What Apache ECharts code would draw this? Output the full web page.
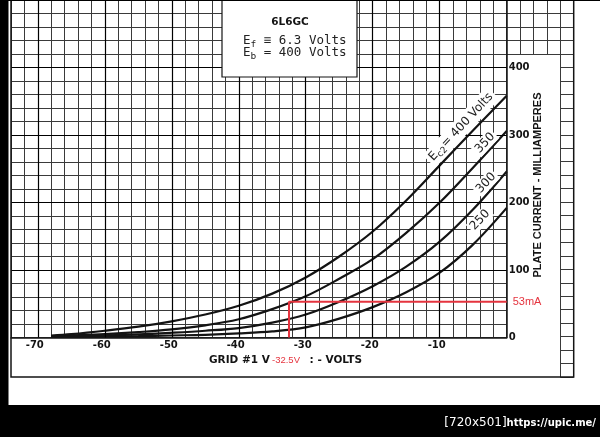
<!DOCTYPE html>
<html>
<head>
<meta charset="utf-8">
<script src="https://cdn.jsdelivr.net/npm/echarts@6/dist/echarts.min.js"></script>
<style>
  html, body { margin: 0; padding: 0; background: #fff; }
  #chart { width: 600px; height: 437px; }
</style>
</head>
<body>
<div id="chart"></div>
<script>
// grid #1 voltage (V) where the curves were read
var gridVolts = [-68, -65, -60, -55, -50, -45, -40, -35, -30, -25, -20, -15, -10, -5, 0];
// plate current (mA), one list per screen voltage Ec2
var ec2_400 = [3, 5, 10, 16, 24, 34, 47, 65, 89, 120, 157, 203, 255, 307, 358];
var ec2_350 = [2, 3, 5, 8, 12, 18, 27, 42, 61, 87, 116, 155, 200, 252, 306];
var ec2_300 = [1.5, 2, 3, 4.5, 7, 10, 14, 22, 34, 53, 76, 105, 142, 190, 246];
var ec2_250 = [1, 1.2, 1.5, 2, 3, 4, 6, 9, 15, 28, 45, 67, 96, 138, 192];

var xTickLabels = [-70, -60, -50, -40, -30, -20, -10];
var yTickLabels = [0, 100, 200, 300, 400];
var majorX = [-70, -60, -50, -40, -30, -20, -10];
var majorY = [100, 200, 300, 400];

// operating point marked in red
var opVolts = -32.5;
var opCurrent = 53;

var RED = '#e5343f';
var INK = '#141414';
var MINOR = '#3a3a3a';

function zip(xs, ys) {
  return xs.map(function (x, i) { return [x, ys[i]]; });
}

function plainAxis(extra) {
  var a = {
    type: 'value',
    interval: 2,
    axisLine: { show: false },
    axisTick: { show: false },
    axisLabel: { show: false },
    splitLine: { show: true, lineStyle: { color: MINOR, width: 1 } }
  };
  for (var k in extra) a[k] = extra[k];
  return a;
}

var chart = echarts.init(document.getElementById('chart'));

var option = {
  animation: false,
  backgroundColor: '#fff',
  grid: [
    { left: 11, right: 93.3, top: 0, bottom: 99.5, containLabel: false, outerBoundsMode: 'none' },
    { left: 506.7, right: 26.3, top: 0, bottom: 383, containLabel: false, outerBoundsMode: 'none' },
    { left: 560.3, right: 26.3, top: 54, bottom: 60, containLabel: false, outerBoundsMode: 'none' }
  ],
  xAxis: [
    {
      type: 'value', gridIndex: 0, min: -74, max: 0, interval: 2,
      axisLine: { show: true, onZero: false, lineStyle: { color: INK, width: 1.5 } },
      axisTick: { show: false },
      axisLabel: {
        margin: 3,
        padding: [0, 6, 0, 0],
        color: INK,
        fontFamily: 'DejaVu Sans',
        fontWeight: 'bold',
        fontSize: 10,
        formatter: function (v) { return xTickLabels.indexOf(v) >= 0 ? String(v) : ''; }
      },
      splitLine: { show: true, lineStyle: { color: MINOR, width: 1 } }
    },
    plainAxis({ gridIndex: 1, min: 0, max: 10 }),
    plainAxis({ gridIndex: 2, min: 8, max: 10 })
  ],
  yAxis: [
    {
      type: 'value', gridIndex: 0, position: 'right', min: 0, max: 500, interval: 20,
      axisLine: { show: true, onZero: false, lineStyle: { color: INK, width: 1.5 } },
      axisTick: { show: false },
      axisLabel: {
        margin: 2,
        color: INK,
        fontFamily: 'DejaVu Sans',
        fontWeight: 'bold',
        fontSize: 10,
        formatter: function (v) { return yTickLabels.indexOf(v) >= 0 ? String(v) : ''; }
      },
      splitLine: { show: true, lineStyle: { color: MINOR, width: 1 } }
    },
    plainAxis({ gridIndex: 1, min: 420, max: 500, interval: 20 }),
    plainAxis({ gridIndex: 2, min: -60, max: 420, interval: 20 })
  ],
  series: [
    {
      name: 'Ec2 400', type: 'line', smooth: 0.35, showSymbol: false, silent: true,
      lineStyle: { color: INK, width: 2.2 },
      data: zip(gridVolts, ec2_400),
      markLine: {
        silent: true,
        symbol: ['none', 'none'],
        label: { show: false },
        lineStyle: { color: '#000', width: 1.2, type: 'solid' },
        data: majorX.map(function (v) { return { xAxis: v }; })
          .concat(majorY.map(function (v) { return { yAxis: v }; }))
      }
    },
    {
      name: 'Ec2 350', type: 'line', smooth: 0.35, showSymbol: false, silent: true,
      lineStyle: { color: INK, width: 2.2 },
      data: zip(gridVolts, ec2_350)
    },
    {
      name: 'Ec2 300', type: 'line', smooth: 0.35, showSymbol: false, silent: true,
      lineStyle: { color: INK, width: 2.2 },
      data: zip(gridVolts, ec2_300)
    },
    {
      name: 'Ec2 250', type: 'line', smooth: 0.35, showSymbol: false, silent: true,
      lineStyle: { color: INK, width: 2.2 },
      data: zip(gridVolts, ec2_250)
    },
    {
      name: 'op', type: 'line', showSymbol: false, silent: true, clip: false, z: 5,
      lineStyle: { color: RED, width: 2 },
      data: [[opVolts, 0], [opVolts, opCurrent], [0, opCurrent]],
      endLabel: {
        show: true,
        distance: 6,
        color: RED,
        fontFamily: 'Liberation Sans',
        fontSize: 11,
        formatter: opCurrent + 'mA'
      }
    }
  ],
  graphic: [
    // black scan borders
    { type: 'rect', z: 100, shape: { x: 0, y: 0, width: 8.5, height: 437 }, style: { fill: '#000' } },
    { type: 'rect', z: 100, shape: { x: 0, y: 0, width: 600, height: 1 }, style: { fill: '#000' } },
    { type: 'rect', z: 100, shape: { x: 0, y: 405, width: 600, height: 32 }, style: { fill: '#000' } },
    {
      type: 'text', z: 101, x: 596, y: 423,
      style: {
        text: '{a|[720x501]}{b|https://upic.me/}',
        align: 'right', verticalAlign: 'middle',
        rich: {
          a: { fill: '#fff', fontFamily: 'DejaVu Sans', fontSize: 12 },
          b: { fill: '#fff', fontFamily: 'DejaVu Sans', fontWeight: 'bold', fontSize: 10 }
        }
      }
    },
    // outer frame
    { type: 'rect', z: 90, shape: { x: 11, y: 0, width: 562.7, height: 377 }, style: { fill: 'none', stroke: INK, lineWidth: 1.5 } },
    // title box
    { type: 'rect', z: 95, shape: { x: 222, y: -1, width: 135, height: 78 }, style: { fill: '#fff', stroke: INK, lineWidth: 1.2 } },
    {
      type: 'text', z: 96, x: 290, y: 22,
      style: { text: '6L6GC', align: 'center', verticalAlign: 'middle', fill: INK, fontFamily: 'DejaVu Sans', fontWeight: 'bold', fontSize: 10.5 }
    },
    {
      type: 'text', z: 96, x: 243, y: 41,
      style: {
        text: '{m|E}{s|f}{m| ≡ 6.3 Volts}', verticalAlign: 'middle',
        rich: {
          m: { fill: '#222', fontFamily: 'DejaVu Sans Mono', fontSize: 12.5 },
          s: { fill: '#222', fontFamily: 'DejaVu Sans Mono', fontSize: 9.5, padding: [7, 0, 0, 0] }
        }
      }
    },
    {
      type: 'text', z: 96, x: 243, y: 53,
      style: {
        text: '{m|E}{s|b}{m| = 400 Volts}', verticalAlign: 'middle',
        rich: {
          m: { fill: '#222', fontFamily: 'DejaVu Sans Mono', fontSize: 12.5 },
          s: { fill: '#222', fontFamily: 'DejaVu Sans Mono', fontSize: 9.5, padding: [7, 0, 0, 0] }
        }
      }
    },
    // curve labels
    {
      type: 'text', z: 96, x: 461, y: 127, rotation: 47 * Math.PI / 180,
      style: {
        text: '{m|E}{s|c2}{m|= 400 Volts}', align: 'center', verticalAlign: 'middle',
        backgroundColor: '#fff', padding: [1, 3],
        rich: {
          m: { fill: '#222', fontFamily: 'DejaVu Sans', fontSize: 12 },
          s: { fill: '#222', fontFamily: 'DejaVu Sans', fontSize: 9, padding: [7, 0, 0, 0] }
        }
      }
    },
    {
      type: 'text', z: 96, x: 485, y: 143, rotation: 47 * Math.PI / 180,
      style: { text: '350', align: 'center', verticalAlign: 'middle', fill: '#222', fontFamily: 'DejaVu Sans', fontSize: 12, backgroundColor: '#fff', padding: [1, 2] }
    },
    {
      type: 'text', z: 96, x: 486, y: 183, rotation: 47 * Math.PI / 180,
      style: { text: '300', align: 'center', verticalAlign: 'middle', fill: '#222', fontFamily: 'DejaVu Sans', fontSize: 12, backgroundColor: '#fff', padding: [1, 2] }
    },
    {
      type: 'text', z: 96, x: 480, y: 220, rotation: 47 * Math.PI / 180,
      style: { text: '250', align: 'center', verticalAlign: 'middle', fill: '#222', fontFamily: 'DejaVu Sans', fontSize: 12, backgroundColor: '#fff', padding: [1, 2] }
    },
    // axis titles
    {
      type: 'text', z: 96, x: 538, y: 185, rotation: Math.PI / 2,
      style: { text: 'PLATE CURRENT - MILLIAMPERES', align: 'center', verticalAlign: 'middle', fill: INK, fontFamily: 'Liberation Sans', fontWeight: 'bold', fontSize: 11 }
    },
    {
      type: 'text', z: 96, x: 209, y: 360,
      style: { text: 'GRID #1 V', verticalAlign: 'middle', fill: INK, fontFamily: 'DejaVu Sans', fontWeight: 'bold', fontSize: 10.5 }
    },
    {
      type: 'text', z: 96, x: 272, y: 360,
      style: { text: opVolts + 'V', verticalAlign: 'middle', fill: RED, fontFamily: 'Liberation Sans', fontSize: 9.5 }
    },
    {
      type: 'text', z: 96, x: 362, y: 360,
      style: { text: ': - VOLTS', align: 'right', verticalAlign: 'middle', fill: INK, fontFamily: 'DejaVu Sans', fontWeight: 'bold', fontSize: 10.5 }
    }
  ]
};

chart.setOption(option);
</script>
</body>
</html>
